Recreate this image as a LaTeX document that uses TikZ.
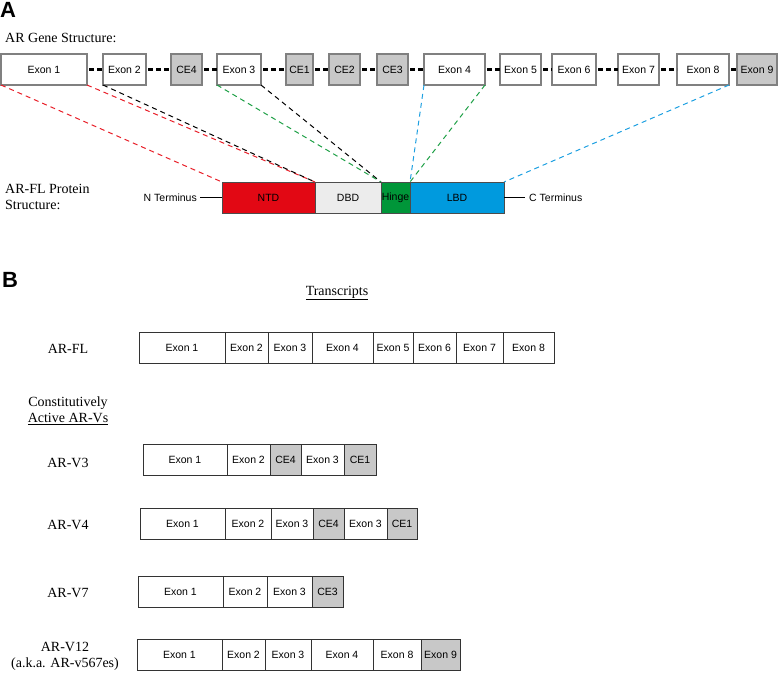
\documentclass[tikz,border=0pt]{standalone}
\usepackage{fontspec}
\setmainfont{Liberation Serif}
\setsansfont{Liberation Sans}
\usepackage{xcolor}
\usepackage{tikz}
\usetikzlibrary{positioning, calc}
\definecolor{ntdred}{RGB}{226,8,20}
\definecolor{dbdgray}{RGB}{236,236,236}
\definecolor{hingegreen}{RGB}{0,150,57}
\definecolor{lbdblue}{RGB}{0,154,222}
\definecolor{cegray}{RGB}{200,200,200}
\definecolor{mapred}{RGB}{232,30,40}
\definecolor{mapgreen}{RGB}{30,160,70}
\definecolor{mapblue}{RGB}{30,160,225}

\begin{document}
\begin{tikzpicture}[x=1pt, y=-1pt]
		\useasboundingbox (0,0) rectangle (778,673);
		
		\tikzstyle{exon}=[draw=black!50, line width=1.2pt, minimum height=31pt, fill=white, inner sep=0pt, outer sep=0pt, font=\sffamily\fontsize{10.5}{12}\selectfont]
		\tikzstyle{cexon}=[exon, fill=cegray]
		\tikzstyle{seg}=[draw=black!80, line width=1pt, minimum height=31pt, fill=white, inner sep=0pt, outer sep=0pt, font=\sffamily\fontsize{10.5}{12}\selectfont]
		\tikzstyle{cseg}=[seg, fill=cegray]
		\tikzstyle{dom}=[draw=black!70, line width=1pt, minimum height=31pt, inner sep=0pt, outer sep=0pt, font=\sffamily\fontsize{10.5}{12}\selectfont]
		\tikzstyle{intron}=[black, line width=3.2pt, dash pattern=on 5pt off 3pt, dash phase=-2pt]
		\tikzstyle{map}=[line width=1pt, dash pattern=on 5pt off 4pt]
		\tikzstyle{serif}=[font=\rmfamily\fontsize{14}{16}\selectfont, align=center]
		\tikzstyle{small}=[font=\sffamily\fontsize{10.5}{12}\selectfont]
		\tikzstyle{panel}=[font=\sffamily\bfseries\fontsize{22}{24}\selectfont, anchor=north west, inner sep=0pt]
		
		%% panel A: gene
		\node [panel] (PA) at (0,2) {A};
		\node [serif, anchor=base west, inner sep=0pt] (GS) at (5,42) {AR Gene Structure:};
		
		\node [exon, minimum width=86pt] (E1) at (44,69.5) {Exon 1};
		\node [exon, minimum width=43pt] (E2) at (124.5,69.5) {Exon 2};
		\node [cexon, minimum width=31pt] (CE4) at (186.5,69.5) {CE4};
		\node [exon, minimum width=44pt] (E3) at (239,69.5) {Exon 3};
		\node [cexon, minimum width=27pt] (CE1) at (299.5,69.5) {CE1};
		\node [cexon, minimum width=31pt] (CE2) at (344.5,69.5) {CE2};
		\node [cexon, minimum width=31pt] (CE3) at (392.5,69.5) {CE3};
		\node [exon, minimum width=61pt] (E4) at (454.5,69.5) {Exon 4};
		\node [exon, minimum width=41pt] (E5) at (520.5,69.5) {Exon 5};
		\node [exon, minimum width=44pt] (E6) at (574,69.5) {Exon 6};
		\node [exon, minimum width=41pt] (E7) at (638.5,69.5) {Exon 7};
		\node [exon, minimum width=52pt] (E8) at (703,69.5) {Exon 8};
		\node [cexon, minimum width=40pt] (E9) at (757,69.5) {Exon 9};
		
		\foreach \a/\b in {E1/E2, E2/CE4, CE4/E3, E3/CE1, CE1/CE2, CE2/CE3, CE3/E4, E4/E5, E5/E6, E6/E7, E7/E8, E8/E9}
		\draw [intron] (\a.east) -- (\b.west);
		
		%% protein
		\node [serif, align=left, anchor=west, inner sep=0pt] (PS) at (5,197) {AR-FL Protein\\Structure:};
		\node [dom, fill=ntdred, minimum width=93pt] (NTD) at (268.5,197.5) {NTD};
		\node [dom, fill=dbdgray, minimum width=66pt, right=0pt of NTD] (DBD) {DBD};
		\node [dom, fill=hingegreen, minimum width=29pt, right=0pt of DBD] (HNG) {Hinge};
		\node [dom, fill=lbdblue, minimum width=94pt, right=0pt of HNG] (LBD) {LBD};
		\node [small, anchor=east, inner sep=0pt] (NT) at (197,197.5) {N Terminus};
		\node [small, anchor=west, inner sep=0pt] (CT) at (529,197.5) {C Terminus};
		\draw [line width=1pt] ($(NT.east)+(3,0)$) -- (NTD.west);
		\draw [line width=1pt] (LBD.east) -- ($(CT.west)+(-4,0)$);
		
		\draw [map, mapred] (E1.south west) -- (NTD.north west);
		\draw [map, mapred] (E1.south east) -- (DBD.north west);
		\draw [map, black] (E2.south west) -- (DBD.north west);
		\draw [map, black] (E3.south east) -- (HNG.north west);
		\draw [map, mapgreen] (E3.south west) -- (HNG.north west);
		\draw [map, mapgreen] (E4.south east) -- (HNG.north east);
		\draw [map, mapblue] (E4.south west) -- (LBD.north west);
		\draw [map, mapblue] (E8.south east) -- (LBD.north east);
		
		%% panel B: transcripts
		\node [panel] (PB) at (2,272) {B};
		\node [serif] (TR) at (337,293) {\underline{Transcripts}};
		
		\node [serif] (LFL) at (68,349) {AR-FL};
		\node [seg, minimum width=86pt] (FL1) at (182,347.5) {Exon 1};
		\node [seg, minimum width=43pt, right=0pt of FL1] (FL2) {Exon 2};
		\node [seg, minimum width=44pt, right=0pt of FL2] (FL3) {Exon 3};
		\node [seg, minimum width=61pt, right=0pt of FL3] (FL4) {Exon 4};
		\node [seg, minimum width=40pt, right=0pt of FL4] (FL5) {Exon 5};
		\node [seg, minimum width=43pt, right=0pt of FL5] (FL6) {Exon 6};
		\node [seg, minimum width=47pt, right=0pt of FL6] (FL7) {Exon 7};
		\node [seg, minimum width=51pt, right=0pt of FL7] (FL8) {Exon 8};
		
		\node [serif] (LCA) at (68,411) {Constitutively\\\underline{Active AR-Vs}};
		
		\node [serif] (LV3) at (68,463) {AR-V3};
		\node [seg, minimum width=84pt] (VA1) at (185,459.5) {Exon 1};
		\node [seg, minimum width=43pt, right=0pt of VA1] (VA2) {Exon 2};
		\node [cseg, minimum width=31pt, right=0pt of VA2] (VA3) {CE4};
		\node [seg, minimum width=43pt, right=0pt of VA3] (VA4) {Exon 3};
		\node [cseg, minimum width=32pt, right=0pt of VA4] (VA5) {CE1};
		
		\node [serif] (LV4) at (68,525) {AR-V4};
		\node [seg, minimum width=85pt] (VB1) at (182.5,523.5) {Exon 1};
		\node [seg, minimum width=46pt, right=0pt of VB1] (VB2) {Exon 2};
		\node [seg, minimum width=42pt, right=0pt of VB2] (VB3) {Exon 3};
		\node [cseg, minimum width=31pt, right=0pt of VB3] (VB4) {CE4};
		\node [seg, minimum width=43pt, right=0pt of VB4] (VB5) {Exon 3};
		\node [cseg, minimum width=30pt, right=0pt of VB5] (VB6) {CE1};
		
		\node [serif] (LV7) at (68,593) {AR-V7};
		\node [seg, minimum width=85pt] (VC1) at (180.5,592) {Exon 1};
		\node [seg, minimum width=44pt, right=0pt of VC1] (VC2) {Exon 2};
		\node [seg, minimum width=45pt, right=0pt of VC2] (VC3) {Exon 3};
		\node [cseg, minimum width=31pt, right=0pt of VC3] (VC4) {CE3};
		
		\node [serif] (LV12) at (65,656) {AR-V12\\(a.k.a. AR-v567es)};
		\node [seg, minimum width=85pt] (VD1) at (179.5,655) {Exon 1};
		\node [seg, minimum width=43pt, right=0pt of VD1] (VD2) {Exon 2};
		\node [seg, minimum width=46pt, right=0pt of VD2] (VD3) {Exon 3};
		\node [seg, minimum width=62pt, right=0pt of VD3] (VD4) {Exon 4};
		\node [seg, minimum width=48pt, right=0pt of VD4] (VD5) {Exon 8};
		\node [cseg, minimum width=39pt, right=0pt of VD5] (VD6) {Exon 9};
		%%
\end{tikzpicture}
\end{document}
